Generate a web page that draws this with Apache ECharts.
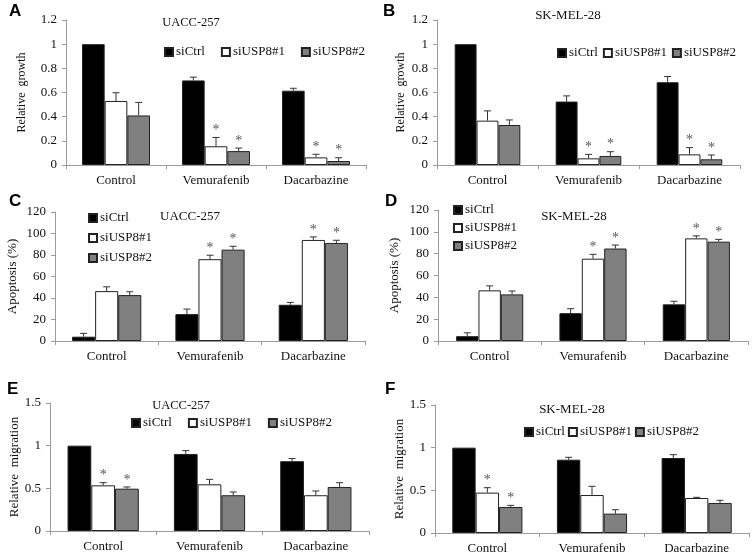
<!DOCTYPE html>
<html><head><meta charset="utf-8">
<script src="https://cdn.jsdelivr.net/npm/echarts@6/dist/echarts.min.js"></script>
<style>html,body{margin:0;padding:0;background:#fff}#c{width:753px;height:557px}</style>
</head><body><div id="c"></div>
<script>
const categories = ['Control', 'Vemurafenib', 'Dacarbazine'];
const seriesNames = ['siCtrl', 'siUSP8#1', 'siUSP8#2'];

// A: UACC-257 relative growth
const growthUACC_siCtrl = [1, 0.70, 0.615];
const growthUACC_si1 = [0.53, 0.155, 0.063];
const growthUACC_si2 = [0.41, 0.115, 0.033];
const growthUACC_err_siCtrl = [0, 0.027, 0.02];
const growthUACC_err_si1 = [0.068, 0.073, 0.026];
const growthUACC_err_si2 = [0.108, 0.025, 0.027];
const growthUACC_star_si1 = [0, 1, 1];
const growthUACC_star_si2 = [0, 1, 1];

// B: SK-MEL-28 relative growth
const growthSK_siCtrl = [1, 0.525, 0.685];
const growthSK_si1 = [0.367, 0.055, 0.088];
const growthSK_si2 = [0.331, 0.075, 0.047];
const growthSK_err_siCtrl = [0, 0.047, 0.047];
const growthSK_err_si1 = [0.081, 0.033, 0.056];
const growthSK_err_si2 = [0.042, 0.035, 0.036];
const growthSK_star_si1 = [0, 1, 1];
const growthSK_star_si2 = [0, 1, 1];

// C: UACC-257 apoptosis (%)
const apopUACC_siCtrl = [4, 25, 33.7];
const apopUACC_si1 = [46.4, 76.1, 94];
const apopUACC_si2 = [42.7, 85, 91.2];
const apopUACC_err_siCtrl = [3.1, 4.7, 2.2];
const apopUACC_err_si1 = [4, 3.7, 2.8];
const apopUACC_err_si2 = [3.1, 3.1, 2.5];
const apopUACC_star_si1 = [0, 1, 1];
const apopUACC_star_si2 = [0, 1, 1];

// D: SK-MEL-28 apoptosis (%)
const apopSK_siCtrl = [4.4, 25.5, 33.6];
const apopSK_si1 = [46.4, 75.4, 94];
const apopSK_si2 = [42.7, 84.7, 91];
const apopSK_err_siCtrl = [3.1, 4.1, 2.8];
const apopSK_err_si1 = [4.1, 4, 2.3];
const apopSK_err_si2 = [3.1, 3.2, 2.1];
const apopSK_star_si1 = [0, 1, 1];
const apopSK_star_si2 = [0, 1, 1];

// E: UACC-257 relative migration
const migUACC_siCtrl = [1, 0.903, 0.818];
const migUACC_si1 = [0.535, 0.547, 0.419];
const migUACC_si2 = [0.496, 0.419, 0.516];
const migUACC_err_siCtrl = [0, 0.039, 0.031];
const migUACC_err_si1 = [0.031, 0.058, 0.05];
const migUACC_err_si2 = [0.02, 0.038, 0.05];
const migUACC_star_si1 = [1, 0, 0];
const migUACC_star_si2 = [1, 0, 0];

// F: SK-MEL-28 relative migration
const migSK_siCtrl = [1, 0.859, 0.879];
const migSK_si1 = [0.473, 0.445, 0.41];
const migSK_si2 = [0.305, 0.227, 0.352];
const migSK_err_siCtrl = [0, 0.028, 0.039];
const migSK_err_si1 = [0.058, 0.102, 0.008];
const migSK_err_si2 = [0.019, 0.046, 0.031];
const migSK_star_si1 = [1, 0, 0];
const migSK_star_si2 = [1, 0, 0];

const yTicksGrowth = [0, 0.2, 0.4, 0.6, 0.8, 1, 1.2];
const yTicksApop = [0, 20, 40, 60, 80, 100, 120];
const yTicksMig = [0, 0.5, 1, 1.5];

const panels = [
  {letter:'A', title:'UACC-257', yName:'Relative  growth', ticks:yTicksGrowth,
   vals:[growthUACC_siCtrl, growthUACC_si1, growthUACC_si2],
   errs:[growthUACC_err_siCtrl, growthUACC_err_si1, growthUACC_err_si2],
   stars:[[0,0,0], growthUACC_star_si1, growthUACC_star_si2],
   grid:{left:66, top:20, width:300, height:145}, gap:0.32, nameGap:38, nameSize:12,
   letterPos:[9,12], titlePos:[191,23], titleSize:12.5,
   legend:{left:164, top:45, itemGap:16, orient:'horizontal'}},
  {letter:'B', title:'SK-MEL-28', yName:'Relative  growth', ticks:yTicksGrowth,
   vals:[growthSK_siCtrl, growthSK_si1, growthSK_si2],
   errs:[growthSK_err_siCtrl, growthSK_err_si1, growthSK_err_si2],
   stars:[[0,0,0], growthSK_star_si1, growthSK_star_si2],
   grid:{left:437, top:20, width:303, height:145}, gap:0.35, nameGap:30, nameSize:12,
   letterPos:[383,12], titlePos:[568,16], titleSize:13,
   legend:{left:557, top:46, itemGap:5, orient:'horizontal'}},
  {letter:'C', title:'UACC-257', yName:'Apoptosis (%)', ticks:yTicksApop,
   vals:[apopUACC_siCtrl, apopUACC_si1, apopUACC_si2],
   errs:[apopUACC_err_siCtrl, apopUACC_err_si1, apopUACC_err_si2],
   stars:[[0,0,0], apopUACC_star_si1, apopUACC_star_si2],
   grid:{left:55, top:212, width:310, height:129}, gap:0.33, nameGap:36, nameSize:13,
   letterPos:[9,202], titlePos:[190,217], titleSize:13,
   legend:{left:88, top:211, itemGap:6, orient:'vertical'}},
  {letter:'D', title:'SK-MEL-28', yName:'Apoptosis (%)', ticks:yTicksApop,
   vals:[apopSK_siCtrl, apopSK_si1, apopSK_si2],
   errs:[apopSK_err_siCtrl, apopSK_err_si1, apopSK_err_si2],
   stars:[[0,0,0], apopSK_star_si1, apopSK_star_si2],
   grid:{left:438, top:210, width:310, height:131}, gap:0.35, nameGap:37, nameSize:13,
   letterPos:[385,202], titlePos:[574,217], titleSize:13,
   legend:{left:453, top:203, itemGap:4, orient:'vertical'}},
  {letter:'E', title:'UACC-257', yName:'Relative  migration', ticks:yTicksMig,
   vals:[migUACC_siCtrl, migUACC_si1, migUACC_si2],
   errs:[migUACC_err_siCtrl, migUACC_err_si1, migUACC_err_si2],
   stars:[[0,0,0], migUACC_star_si1, migUACC_star_si2],
   grid:{left:50, top:403, width:319, height:128}, gap:0.33, nameGap:28, nameSize:13,
   letterPos:[7,390], titlePos:[181,406], titleSize:12.5,
   legend:{left:131, top:416, itemGap:16, orient:'horizontal'}},
  {letter:'F', title:'SK-MEL-28', yName:'Relative  migration', ticks:yTicksMig,
   vals:[migSK_siCtrl, migSK_si1, migSK_si2],
   errs:[migSK_err_siCtrl, migSK_err_si1, migSK_err_si2],
   stars:[[0,0,0], migSK_star_si1, migSK_star_si2],
   grid:{left:435, top:405, width:314, height:128}, gap:0.33, nameGap:28, nameSize:13,
   letterPos:[385,390], titlePos:[572,410], titleSize:13,
   legend:{left:524, top:425, itemGap:3, orient:'horizontal'}}
];

const colors = ['#000000', '#ffffff', '#808080'];
const serif = 'Liberation Serif, Times New Roman, serif';
const axisColor = '#9a9a9a';

function makeRender(gap) {
  return function (params, api) {
    const c = api.value(0), v = api.value(1), e = api.value(2), star = api.value(3), s = api.value(4);
    const band = api.size([1, 0])[0];
    const bw = band * (1 - gap) / 3;
    const base = api.coord([c, v]);
    const x = base[0] + (s - 1) * bw;
    const top = api.coord([c, v + e])[1];
    const children = [];
    if (e > 0) {
      children.push({type:'line', shape:{x1:x, y1:base[1], x2:x, y2:top}, style:{stroke:'#333', lineWidth:1}});
      children.push({type:'line', shape:{x1:x-3.5, y1:top, x2:x+3.5, y2:top}, style:{stroke:'#333', lineWidth:1}});
    }
    if (star) {
      children.push({type:'text', x:x, y:top - 7, style:{text:'*', fill:'#555', font:'14px ' + serif, align:'center', verticalAlign:'middle'}});
    }
    return {type:'group', children:children};
  };
}

const option = {animation:false, backgroundColor:'#fff', grid:[], xAxis:[], yAxis:[], series:[], legend:[], graphic:[]};

panels.forEach(function (p, i) {
  option.grid.push(Object.assign({containLabel:false}, p.grid));
  option.xAxis.push({
    type:'category', gridIndex:i, data:categories,
    axisLine:{show:true, lineStyle:{color:axisColor, width:1}},
    axisTick:{show:true, length:4, lineStyle:{color:axisColor}},
    axisLabel:{color:'#111', fontFamily:serif, fontSize:13, margin:9}
  });
  const t = p.ticks;
  option.yAxis.push({
    type:'value', gridIndex:i, min:t[0], max:t[t.length-1], interval:t[1]-t[0],
    name:p.yName, nameLocation:'middle', nameRotate:90, nameGap:p.nameGap,
    nameTextStyle:{color:'#111', fontFamily:serif, fontSize:p.nameSize},
    axisLine:{show:true, lineStyle:{color:axisColor, width:1}},
    axisTick:{show:true, length:4, lineStyle:{color:axisColor}},
    splitLine:{show:false},
    axisLabel:{color:'#111', fontFamily:serif, fontSize:13, margin:9}
  });
  seriesNames.forEach(function (n, s) {
    option.series.push({
      type:'bar', name:n, xAxisIndex:i, yAxisIndex:i, data:p.vals[s],
      barGap:'0%', barCategoryGap:(p.gap*100)+'%',
      itemStyle:{color:colors[s], borderColor:'#222', borderWidth:1},
      emphasis:{disabled:true}
    });
  });
  const ed = [];
  seriesNames.forEach(function (n, s) {
    categories.forEach(function (c, k) {
      ed.push([k, p.vals[s][k], p.errs[s][k], p.stars[s][k], s]);
    });
  });
  option.series.push({
    type:'custom', xAxisIndex:i, yAxisIndex:i, data:ed, encode:{x:0, y:1}, z:5,
    renderItem:makeRender(p.gap), silent:true
  });
  option.legend.push({
    data:seriesNames, left:p.legend.left, top:p.legend.top, orient:p.legend.orient,
    itemGap:p.legend.itemGap, itemWidth:8, itemHeight:8, icon:'rect', padding:0,
    selectedMode:false,
    textStyle:{color:'#111', fontFamily:serif, fontSize:13, lineHeight:14, padding:[0,0,0,-2]}
  });
  option.graphic.push({type:'text', left:p.letterPos[0], top:p.letterPos[1]-9,
    style:{text:p.letter, font:'bold 17px Liberation Sans, Arial, sans-serif', fill:'#000'}});
  option.graphic.push({type:'text', x:p.titlePos[0], y:p.titlePos[1],
    style:{text:p.title, font:p.titleSize + 'px ' + serif, fill:'#111', align:'center', verticalAlign:'middle'}});
});

const chart = echarts.init(document.getElementById('c'), null, {renderer:'canvas'});
chart.setOption(option);
</script>
</body></html>
